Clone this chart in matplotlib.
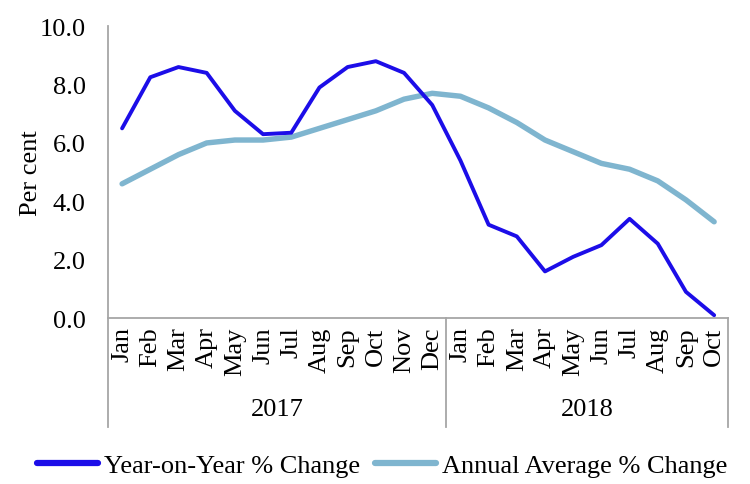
import matplotlib
matplotlib.use("Agg")
import matplotlib.pyplot as plt
from matplotlib.ticker import FormatStrFormatter
import matplotlib.transforms as mtransforms

months_2017 = ["Jan", "Feb", "Mar", "Apr", "May", "Jun", "Jul", "Aug", "Sep", "Oct", "Nov", "Dec"]
months_2018 = ["Jan", "Feb", "Mar", "Apr", "May", "Jun", "Jul", "Aug", "Sep", "Oct"]
years = ["2017", "2018"]
yoy = [6.5, 8.25, 8.6, 8.4, 7.1, 6.3, 6.35, 7.9, 8.6, 8.8, 8.4, 7.3,
       5.4, 3.2, 2.8, 1.6, 2.1, 2.5, 3.4, 2.55, 0.9, 0.1]
annual = [4.6, 5.1, 5.6, 6.0, 6.1, 6.1, 6.2, 6.5, 6.8, 7.1, 7.5, 7.7,
          7.6, 7.2, 6.7, 6.1, 5.7, 5.3, 5.1, 4.7, 4.05, 3.3]

labels = months_2017 + months_2018
x = list(range(len(labels)))

FS = 19
plt.rcParams['font.family'] = ['Liberation Serif', 'DejaVu Serif']
fig = plt.figure(figsize=(7.5, 4.85), dpi=100)
ax = fig.add_axes([0.144, 0.342, 0.827, 0.602])

ax.plot(x, yoy, color='#1C0DE8', lw=2.8, label='Year-on-Year % Change', solid_capstyle='round', zorder=3)
ax.plot(x, annual, color='#7FB5CF', lw=3.9, label='Annual Average % Change', solid_capstyle='round', zorder=2)

ax.set_xlim(-0.5, len(labels) - 0.5)
ax.set_ylim(0, 10)
ax.set_yticks([0, 2, 4, 6, 8, 10])
ax.yaxis.set_major_formatter(FormatStrFormatter('%.1f'))
ax.set_xticks(x)
ax.set_xticklabels(labels, rotation=90, fontsize=FS, va='top')
ax.tick_params(axis='both', length=0)
ax.tick_params(axis='y', labelsize=FS, pad=16)
ax.tick_params(axis='x', pad=6)
ax.set_ylabel('Per cent', fontsize=FS)
ax.yaxis.set_label_coords(-0.107, 0.5)

for s in ['top', 'right']:
    ax.spines[s].set_visible(False)
for s in ['left', 'bottom']:
    ax.spines[s].set_color('#A6A6A6')
    ax.spines[s].set_linewidth(1.3)

trans = mtransforms.blended_transform_factory(ax.transData, ax.transAxes)
bounds = [-0.5, len(months_2017) - 0.5, len(labels) - 0.5]
for b in bounds:
    ax.plot([b, b], [0, -0.373], transform=trans, color='#A6A6A6', lw=1.3, clip_on=False)
centers = [(bounds[0] + bounds[1]) / 2, (bounds[1] + bounds[2]) / 2]
for c, yr in zip(centers, years):
    ax.text(c, -0.312, yr, transform=trans, ha='center', va='center', fontsize=FS)

leg = fig.legend(loc='lower center', bbox_to_anchor=(0.51, -0.035), ncol=2, frameon=False,
                 fontsize=FS, handlelength=2.3, columnspacing=0.55, handletextpad=0.25)
for h in leg.get_lines():
    h.set_linewidth(4.5)

fig.savefig('out.png', dpi=100)
